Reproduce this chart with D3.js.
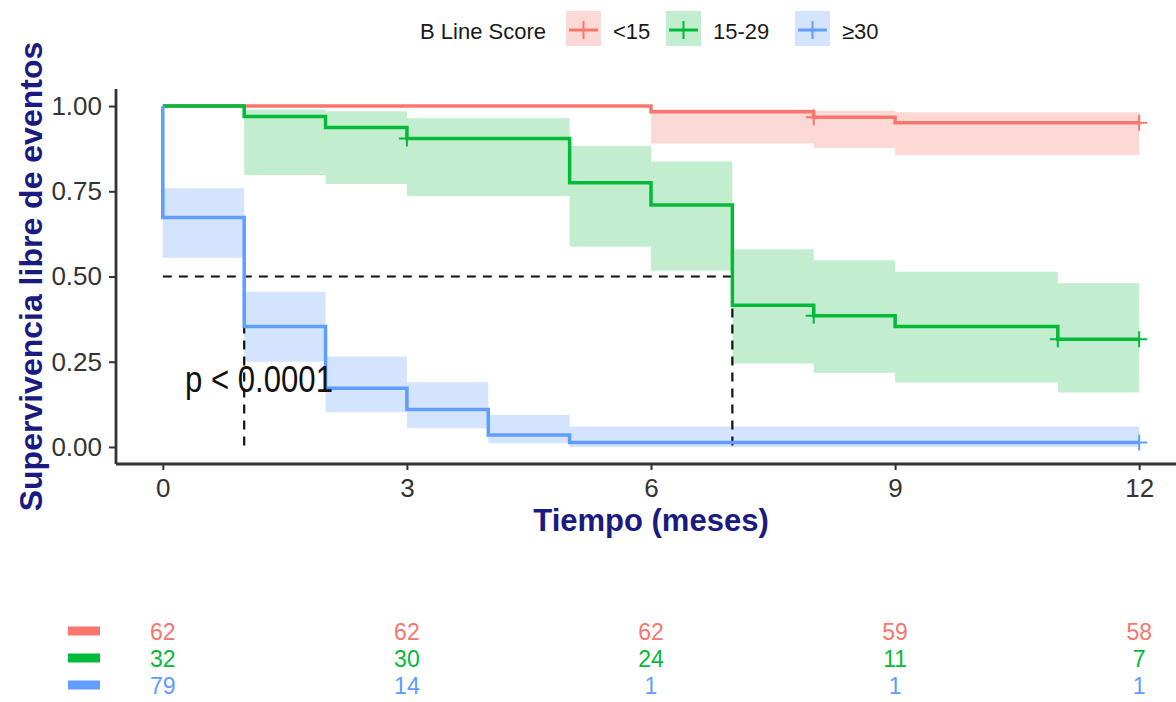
<!DOCTYPE html>
<html><head><meta charset="utf-8">
<script src="https://cdn.jsdelivr.net/npm/d3@7"></script>
<style>body{margin:0;background:#fff;} svg{display:block;font-family:"Liberation Sans",Arial,sans-serif;}</style>
</head><body><svg id="c" width="1176" height="702"></svg>
<script>
// ---- data ----
const groups = ["<15", "15-29", "≥30"];
const colors = ["#F8766D", "#00BA38", "#619CFF"];
const bandAlpha = [0.28, 0.24, 0.27];
const endTime = 12;
const redTimes = [0, 6, 8, 9];
const redSurv = [1, 0.983, 0.967, 0.951];
const redLower = [1, 0.89, 0.877, 0.856];
const redUpper = [1, 0.99, 0.986, 0.982];
const redCensor = [8, 12];
const greenTimes = [0, 1, 2, 3, 5, 6, 7, 8, 9, 11];
const greenSurv = [1, 0.969, 0.937, 0.905, 0.775, 0.71, 0.416, 0.385, 0.353, 0.316];
const greenLower = [1, 0.798, 0.771, 0.736, 0.587, 0.517, 0.245, 0.218, 0.189, 0.16];
const greenUpper = [1, 0.99, 0.985, 0.964, 0.883, 0.837, 0.58, 0.548, 0.514, 0.48];
const greenCensor = [3, 8, 11, 12];
const blueTimes = [0, 0, 1, 2, 3, 4, 5];
const blueSurv = [1, 0.673, 0.353, 0.172, 0.11, 0.035, 0.013];
const blueLower = [1, 0.555, 0.25, 0.102, 0.055, 0.011, 0.0];
const blueUpper = [1, 0.759, 0.455, 0.265, 0.19, 0.094, 0.06];
const blueCensor = [12];
const xTicks = [0, 3, 6, 9, 12];
const yTicks = [0, 0.25, 0.5, 0.75, 1];
const riskTimes = [0, 3, 6, 9, 12];
const riskRed = [62, 62, 62, 59, 58];
const riskGreen = [32, 30, 24, 11, 7];
const riskBlue = [79, 14, 1, 1, 1];
const medianTimes = [1, 7];
const pText = "p < 0.0001";

const series = [
  {t: redTimes, s: redSurv, lo: redLower, hi: redUpper, c: redCensor},
  {t: greenTimes, s: greenSurv, lo: greenLower, hi: greenUpper, c: greenCensor},
  {t: blueTimes, s: blueSurv, lo: blueLower, hi: blueUpper, c: blueCensor}
];
const risk = [riskRed, riskGreen, riskBlue];

const svg = d3.select("#c");
const x = d3.scaleLinear().domain([-0.6, 12.6]).range([114, 1188]);
const y = d3.scaleLinear().domain([-0.05, 1.05]).range([464, 89]);
const navy = "#1a1a80";
const axisX = 116;

// bands
series.forEach((S, i) => {
  const pts = S.t.map((t, k) => ({t, s: S.s[k], lo: S.lo[k], hi: S.hi[k]}));
  const last = pts[pts.length - 1];
  pts.push({t: endTime, s: last.s, lo: last.lo, hi: last.hi});
  S.pts = pts;
  svg.append("path").datum(pts)
    .attr("d", d3.area().curve(d3.curveStepAfter).x(d => x(d.t)).y0(d => y(d.lo)).y1(d => y(d.hi)))
    .attr("fill", colors[i]).attr("fill-opacity", bandAlpha[i]).attr("stroke", "none");
});

// median dashed lines
svg.append("line").attr("x1", x(0)).attr("x2", x(d3.max(medianTimes))).attr("y1", y(0.5)).attr("y2", y(0.5))
  .attr("stroke", "#111").attr("stroke-width", 2.2).attr("stroke-dasharray", "9,7");
medianTimes.forEach(t => {
  svg.append("line").attr("x1", x(t)).attr("x2", x(t)).attr("y1", y(0.5)).attr("y2", y(0))
    .attr("stroke", "#111").attr("stroke-width", 2.2).attr("stroke-dasharray", "9,7");
});

// curves
series.forEach((S, i) => {
  svg.append("path").datum(S.pts)
    .attr("d", d3.line().curve(d3.curveStepAfter).x(d => x(d.t)).y(d => y(d.s)))
    .attr("fill", "none").attr("stroke", colors[i]).attr("stroke-width", 3.5);
  S.c.forEach(ct => {
    let v = S.s[0];
    S.t.forEach((t, k) => { if (t <= ct) v = S.s[k]; });
    const cx = x(ct), cy = y(v);
    svg.append("path").attr("d", `M${cx-8},${cy}H${cx+8}M${cx},${cy-8}V${cy+8}`)
      .attr("stroke", colors[i]).attr("stroke-width", 2);
  });
});

// axes
const ax = svg.append("g").attr("transform", `translate(0,${y.range()[0]})`)
  .call(d3.axisBottom(x).tickValues(xTicks).tickFormat(d3.format("d")).tickSize(6).tickSizeOuter(0));
const ay = svg.append("g").attr("transform", `translate(${axisX},0)`)
  .call(d3.axisLeft(y).tickValues(yTicks).tickFormat(d3.format(".2f")).tickSize(7).tickSizeOuter(0));
[ax, ay].forEach(g => {
  g.select(".domain").attr("stroke", "#333").attr("stroke-width", 2.8);
  g.selectAll(".tick line").attr("stroke", "#333").attr("stroke-width", 2);
  g.selectAll(".tick text").attr("fill", "#333").attr("font-size", 26);
});
ax.selectAll(".tick text").attr("y", 15);
ay.selectAll(".tick text").attr("dx", "-4px");
ax.select(".domain").attr("d", `M${axisX},0H1176`);
ay.select(".domain").attr("d", `M0,${y.range()[0]}V${y.range()[1]}`);

// axis titles
svg.append("text").attr("x", 651).attr("y", 531).attr("text-anchor", "middle")
  .attr("font-size", 31).attr("font-weight", "bold").attr("fill", navy).text("Tiempo (meses)");
svg.append("text").attr("transform", `translate(42,${(y(0)+y(1))/2}) rotate(-90)`).attr("text-anchor", "middle")
  .attr("font-size", 32).attr("font-weight", "bold").attr("fill", navy).text("Supervivencia libre de eventos");

// p value
svg.append("text").attr("x", 185).attr("y", 392).attr("font-size", 36).attr("fill", "#111")
  .attr("textLength", 148).attr("lengthAdjust", "spacingAndGlyphs").text(pText);

// legend
const lg = svg.append("g");
lg.append("text").attr("x", 420).attr("y", 39).attr("font-size", 22).attr("fill", "#1a1a1a").text("B Line Score");
const keyX = [566, 666, 795];
groups.forEach((g, i) => {
  const kx = keyX[i];
  lg.append("rect").attr("x", kx).attr("y", 11).attr("width", 35).attr("height", 35)
    .attr("fill", colors[i]).attr("fill-opacity", bandAlpha[i]);
  lg.append("line").attr("x1", kx + 3).attr("x2", kx + 32).attr("y1", 30).attr("y2", 30)
    .attr("stroke", colors[i]).attr("stroke-width", 3);
  lg.append("line").attr("x1", kx + 17.5).attr("x2", kx + 17.5).attr("y1", 21).attr("y2", 39)
    .attr("stroke", colors[i]).attr("stroke-width", 2);
  lg.append("text").attr("x", kx + 47).attr("y", 39).attr("font-size", 22).attr("fill", "#1a1a1a").text(g);
});

// risk table
const rowY = [631, 658, 685];
risk.forEach((row, i) => {
  svg.append("rect").attr("x", 68).attr("y", rowY[i] - 4.5).attr("width", 32).attr("height", 9).attr("fill", colors[i]);
  row.forEach((v, k) => {
    svg.append("text").attr("x", x(riskTimes[k])).attr("y", rowY[i] + 9).attr("text-anchor", "middle")
      .attr("font-size", 23).attr("fill", colors[i]).text(v);
  });
});
</script></body></html>
